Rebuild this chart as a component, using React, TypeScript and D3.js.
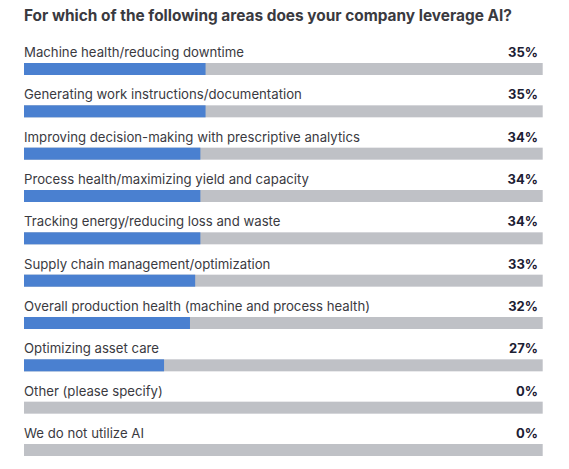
import React, { useEffect, useRef } from "react";
import * as d3 from "d3";

const title = "For which of the following areas does your company leverage AI?";

const categories = [
  "Machine health/reducing downtime",
  "Generating work instructions/documentation",
  "Improving decision-making with prescriptive analytics",
  "Process health/maximizing yield and capacity",
  "Tracking energy/reducing loss and waste",
  "Supply chain management/optimization",
  "Overall production health (machine and process health)",
  "Optimizing asset care",
  "Other (please specify)",
  "We do not utilize AI",
];

const values = [35, 35, 34, 34, 34, 33, 32, 27, 0, 0];

const width = 569;
const height = 469;

const App: React.FC = () => {
  const svgRef = useRef<SVGSVGElement | null>(null);

  useEffect(() => {
    const svg = d3.select(svgRef.current);
    svg.selectAll("*").remove();

    const font = "Inter, 'Noto Sans', sans-serif";
    const barHeight = 12;

    const x = d3.scaleLinear().domain([0, 100]).range([24, 542.7]);

    // row positions = top of each bar
    const y = d3
      .scalePoint<string>()
      .domain(categories)
      .range([63, 444]);

    svg
      .append("text")
      .attr("x", 24)
      .attr("y", 21)
      .attr("font-family", font)
      .attr("font-size", 15.4)
      .attr("font-weight", 700)
      .attr("fill", "#3a3a3f")
      .text(title);

    const rows = svg
      .selectAll("g.row")
      .data(categories)
      .enter()
      .append("g")
      .attr("class", "row")
      .attr("transform", (d) => `translate(0, ${y(d)})`);

    // gray track
    rows
      .append("rect")
      .attr("x", x(0))
      .attr("y", 0)
      .attr("width", x(100) - x(0))
      .attr("height", barHeight)
      .attr("fill", "#bfc1c6");

    // blue value bar
    rows
      .append("rect")
      .attr("x", x(0))
      .attr("y", 0)
      .attr("width", (_, i) => x(values[i]) - x(0))
      .attr("height", barHeight)
      .attr("fill", "#4a80d0");

    rows
      .append("text")
      .attr("x", x(0))
      .attr("y", -6)
      .attr("font-family", font)
      .attr("font-size", 13.2)
      .attr("fill", "#3a3a3f")
      .text((d) => d);

    rows
      .append("text")
      .attr("x", 538)
      .attr("y", -6)
      .attr("text-anchor", "end")
      .attr("font-family", font)
      .attr("font-size", 13)
      .attr("font-weight", 700)
      .attr("fill", "#1c2033")
      .text((_, i) => `${values[i]}%`);
  }, []);

  return (
    <svg
      ref={svgRef}
      width={width}
      height={height}
      style={{ position: "absolute", left: 0, top: 0, background: "#fff" }}
    />
  );
};

export default App;
